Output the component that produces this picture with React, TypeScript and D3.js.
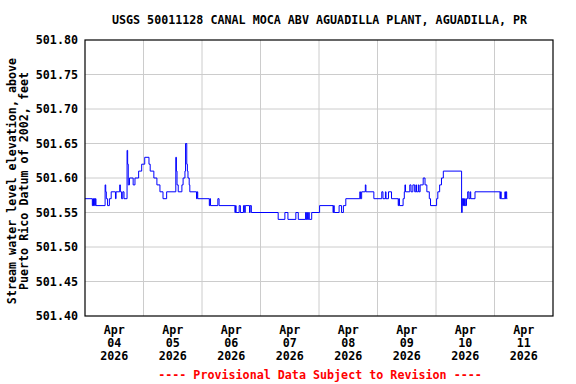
import * as d3 from 'd3';

// USGS 50011128 gage height, step changes (hours after Apr 04 2026 00:00, feet)
const stepHours = [
  0, 3.0, 3.25, 3.5, 3.75, 4.0, 4.25, 4.5, 8.25, 8.5, 8.75, 9.25, 10.0, 10.75,
  12.5, 12.75, 14.25, 14.5, 15.0, 15.5, 16.0, 17.25, 17.5, 17.75, 18.25, 19.75,
  20.5, 22.0, 23.25, 24.5, 26.25, 26.75, 28.25, 29.5, 30.75, 32.0, 33.5, 37.25,
  37.5, 37.75, 38.25, 39.75, 40.25, 41.0, 41.25, 41.75, 42.0, 42.25, 42.75, 43.0,
  45.75, 46.0, 46.25, 51.0, 51.25, 51.5, 54.5, 55.0, 61.5, 61.75, 62.0, 63.25,
  63.75, 65.0, 65.5, 65.75, 67.5, 67.75, 68.25, 79.25, 82.0, 83.25, 86.5, 87.5,
  90.5, 90.75, 91.0, 91.25, 91.75, 92.0, 93.0, 96.25, 101.75, 102.0, 102.25,
  104.25, 105.25, 106.0, 107.0, 112.75, 113.0, 113.5, 115.0, 115.25, 118.5,
  121.75, 122.25, 123.25, 123.5, 124.5, 125.75, 128.5, 128.75, 129.0, 130.5,
  131.0, 131.25, 131.5, 133.25, 133.75, 134.5, 135.25, 135.75, 136.0, 136.75,
  137.0, 137.5, 138.75, 139.5, 140.25, 141.25, 141.75, 144.25, 144.75, 145.5,
  146.25, 147.0, 154.5, 154.75, 155.0, 155.25, 155.5, 155.75, 156.0, 156.5,
  157.0, 157.5, 158.0, 158.25, 160.0, 170.25, 170.5, 170.75, 171.0, 172.25,
  172.5, 172.75, 173.0, 173.25,
];
const stepLevels = [
  501.57, 501.56, 501.57, 501.56, 501.57, 501.56, 501.57, 501.56, 501.59, 501.58,
  501.57, 501.56, 501.57, 501.58, 501.57, 501.58, 501.59, 501.58, 501.57, 501.58,
  501.57, 501.64, 501.62, 501.59, 501.6, 501.59, 501.6, 501.61, 501.62, 501.63,
  501.62, 501.61, 501.6, 501.59, 501.58, 501.57, 501.58, 501.63, 501.61, 501.59,
  501.58, 501.59, 501.6, 501.61, 501.65, 501.62, 501.61, 501.6, 501.59, 501.58,
  501.57, 501.58, 501.57, 501.56, 501.57, 501.56, 501.57, 501.56, 501.55, 501.56,
  501.55, 501.56, 501.55, 501.56, 501.55, 501.56, 501.55, 501.56, 501.55, 501.54,
  501.55, 501.54, 501.55, 501.54, 501.55, 501.54, 501.55, 501.54, 501.55, 501.54,
  501.55, 501.56, 501.55, 501.56, 501.55, 501.56, 501.55, 501.56, 501.57, 501.58,
  501.57, 501.58, 501.59, 501.58, 501.57, 501.58, 501.57, 501.58, 501.57, 501.58,
  501.57, 501.56, 501.57, 501.56, 501.57, 501.58, 501.59, 501.58, 501.59, 501.58,
  501.59, 501.58, 501.59, 501.58, 501.59, 501.58, 501.59, 501.6, 501.59, 501.58,
  501.57, 501.56, 501.57, 501.58, 501.59, 501.6, 501.61, 501.55, 501.57, 501.56,
  501.57, 501.56, 501.57, 501.56, 501.57, 501.58, 501.57, 501.58, 501.57, 501.58,
  501.57, 501.58, 501.57, 501.57, 501.58, 501.57, 501.58, 501.57, 501.57,
];

const dayLabels = ['04', '05', '06', '07', '08', '09', '10', '11'];
const yTickValues = [501.4, 501.45, 501.5, 501.55, 501.6, 501.65, 501.7, 501.75, 501.8];

const W = 576;
const H = 384;
const margin = { top: 40, right: 23, bottom: 68, left: 85 };
const font = '"DejaVu Sans Mono", monospace';

export default function App() {
  const start = new Date(2026, 3, 4);
  const end = new Date(2026, 3, 12);
  const hourMs = 3600 * 1000;

  const x = d3
    .scaleTime()
    .domain([start, end])
    .range([margin.left, W - margin.right]);
  const y = d3
    .scaleLinear()
    .domain([501.4, 501.8])
    .range([H - margin.bottom, margin.top]);

  const data = stepHours.map((h, i) => ({
    t: new Date(start.getTime() + h * hourMs),
    v: stepLevels[i],
  }));

  const line = d3
    .line<{ t: Date; v: number }>()
    .x((d) => x(d.t))
    .y((d) => y(d.v))
    .curve(d3.curveStepAfter);

  const days = d3.timeDay.range(start, end);
  const plotTop = margin.top;
  const plotBottom = H - margin.bottom;

  return (
    <svg
      width={W}
      height={H}
      style={{ position: 'absolute', left: 0, top: 0, background: '#fff' }}
      fontFamily={font}
      fontWeight="bold"
      fontSize={11.7}
    >
      <text x={319.5} y={24} textAnchor="middle">
        USGS 50011128 CANAL MOCA ABV AGUADILLA PLANT, AGUADILLA, PR
      </text>

      {/* grid */}
      {days.slice(1).map((d) => (
        <line
          key={d.getTime()}
          x1={x(d)}
          x2={x(d)}
          y1={plotTop}
          y2={plotBottom}
          stroke="#cccccc"
        />
      ))}
      {yTickValues.slice(1, -1).map((v) => (
        <line
          key={v}
          x1={margin.left}
          x2={W - margin.right}
          y1={y(v)}
          y2={y(v)}
          stroke="#cccccc"
        />
      ))}

      <path d={line(data) ?? ''} fill="none" stroke="#0000ff" strokeWidth={1} />

      <rect
        x={margin.left}
        y={plotTop}
        width={W - margin.left - margin.right}
        height={plotBottom - plotTop}
        fill="none"
        stroke="#000"
        strokeWidth={1.2}
      />

      {yTickValues.map((v) => (
        <text key={v} x={78} y={y(v) + 4} textAnchor="end">
          {v.toFixed(2)}
        </text>
      ))}

      {days.map((d, i) => {
        const cx = x(new Date(d.getTime() + 12 * hourMs));
        return (
          <text key={d.getTime()} textAnchor="middle">
            <tspan x={cx} y={334}>Apr</tspan>
            <tspan x={cx} y={347}>{dayLabels[i]}</tspan>
            <tspan x={cx} y={360}>2026</tspan>
          </text>
        );
      })}

      <g transform="translate(0,181) rotate(-90)">
        <text x={0} y={16} textAnchor="middle">
          Stream water level elevation, above
        </text>
        <text x={0} y={28} textAnchor="middle">
          Puerto Rico Datum of 2002, feet
        </text>
      </g>

      <text x={320} y={379} textAnchor="middle" fill="#ff0000">
        ---- Provisional Data Subject to Revision ----
      </text>
    </svg>
  );
}
